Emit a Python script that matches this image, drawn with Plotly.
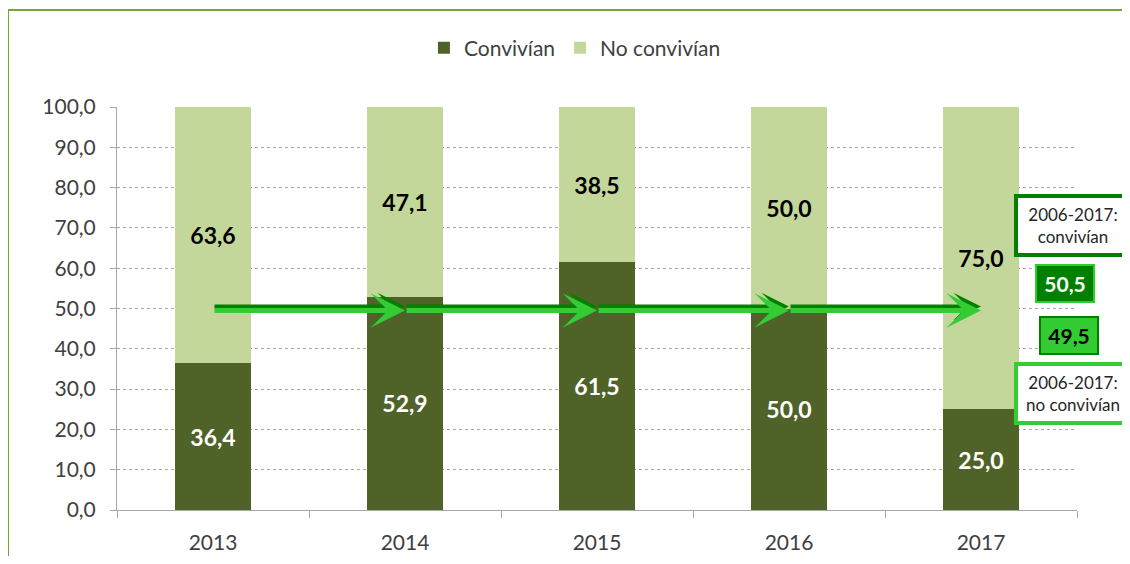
import plotly.graph_objects as go

years = [2013, 2014, 2015, 2016, 2017]
conviven = [36.4, 52.9, 61.5, 50.0, 25.0]
no_conviven = [63.6, 47.1, 38.5, 50.0, 75.0]
avg_conviven = 50.5       # 2006-2017 average
avg_no_conviven = 49.5

DARK_BAR = "#4F6228"
LIGHT_BAR = "#C4D79B"
DARK_ARROW = "#008000"
BRIGHT_ARROW = "#33CC33"
FONT = "Lato"
TXT = "#404040"


def fmt(v):
    return f"{v:.1f}".replace(".", ",")


fig = go.Figure()

fig.add_trace(go.Bar(
    x=years, y=conviven, name="Convivían", marker=dict(color=DARK_BAR, line=dict(width=0)),
    text=[fmt(v) for v in conviven],
    textposition="inside", insidetextanchor="middle",
    textfont=dict(family=FONT, size=23, color="white", weight="bold"),
    width=0.4, hoverinfo="skip",
))
fig.add_trace(go.Bar(
    x=years, y=no_conviven, name="No convivían", marker=dict(color=LIGHT_BAR, line=dict(width=0)),
    text=[fmt(v) for v in no_conviven],
    textposition="inside", insidetextanchor="middle",
    textfont=dict(family=FONT, size=23, color="black", weight="bold"),
    width=0.4, hoverinfo="skip",
))

# ── trend arrows (dark = convivían avg, bright = no convivían avg) ──
annotations = []
for level, color, lw in [(avg_conviven, DARK_ARROW, 4), (avg_no_conviven, BRIGHT_ARROW, 5)]:
    for a, b in zip(years[:-1], years[1:]):
        annotations.append(dict(
            x=b, y=level, ax=a, ay=level, xref="x", yref="y", axref="x", ayref="y",
            text="", showarrow=True, arrowhead=3, arrowsize=1.15, arrowwidth=lw,
            arrowcolor=color, standoff=0,
        ))

# ── side boxes (label boxes first, value boxes drawn on top) ──
box_font = dict(family=FONT, size=17, color="#262626")
side = dict(xref="paper", yref="paper", xanchor="center", yanchor="middle", showarrow=False)
annotations += [
    dict(side, x=0.996, y=0.705, text="2006-2017:<br>convivían",
         font=box_font, bgcolor="white", bordercolor=DARK_ARROW,
         borderwidth=4, borderpad=6, width=98),
    dict(side, x=0.996, y=0.288, text="2006-2017:<br>no convivían",
         font=box_font, bgcolor="white", bordercolor=BRIGHT_ARROW,
         borderwidth=4, borderpad=6, width=98),
    dict(side, x=0.9875, y=0.563, text=fmt(avg_conviven),
         font=dict(family=FONT, size=21, color="white", weight="bold"),
         bgcolor=DARK_ARROW, bordercolor="#2ECC2E", borderwidth=2, borderpad=5, width=46),
    dict(side, x=0.9917, y=0.432, text=fmt(avg_no_conviven),
         font=dict(family=FONT, size=21, color="black", weight="bold"),
         bgcolor=BRIGHT_ARROW, bordercolor=DARK_ARROW, borderwidth=2, borderpad=5, width=46),
]

# outer frame lines (top and left)
shapes = [
    dict(type="line", xref="paper", yref="paper", x0=-0.1135, x1=1.2, y0=1.2407, y1=1.2407,
         line=dict(color="#77A33A", width=2)),
    dict(type="line", xref="paper", yref="paper", x0=-0.1135, x1=-0.1135, y0=1.2407, y1=-0.2,
         line=dict(color="#77A33A", width=2)),
]

fig.update_layout(
    barmode="stack",
    width=1122, height=548,
    margin=dict(l=109, r=53, t=99, b=46, autoexpand=False),
    plot_bgcolor="white", paper_bgcolor="white",
    separators=",.",
    font=dict(family=FONT, color=TXT),
    showlegend=True,
    legend=dict(orientation="h", x=0.477, xanchor="center", y=1.146, yanchor="middle",
                font=dict(family=FONT, size=21, color=TXT), traceorder="normal",
                itemwidth=30),
    xaxis=dict(range=[2012.5, 2017.5], tickvals=years, ticks="", showgrid=False,
               showline=True, linecolor="#A6A6A6", linewidth=1, automargin=False,
               tickfont=dict(family=FONT, size=21, color=TXT), ticklabelstandoff=14,
               minor=dict(tickvals=[2012.5, 2013.5, 2014.5, 2015.5, 2016.5, 2017.5],
                          ticks="outside", ticklen=7, tickcolor="#A6A6A6", showgrid=False)),
    yaxis=dict(range=[0, 100], dtick=10, tickformat=".1f", showgrid=True,
               gridcolor="#A6A6A6", griddash="dot", gridwidth=1, automargin=False,
               showline=True, linecolor="#A6A6A6", linewidth=1,
               ticks="outside", ticklen=6, tickcolor="#A6A6A6", ticklabelstandoff=10,
               tickfont=dict(family=FONT, size=21, color=TXT), zeroline=False),
    annotations=annotations,
    shapes=shapes,
)

fig.write_html("out.html")
